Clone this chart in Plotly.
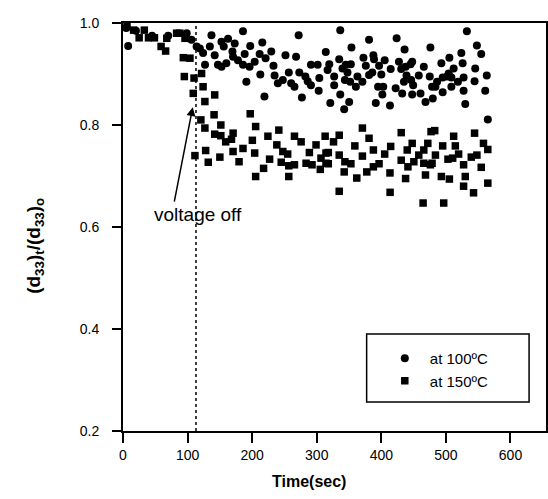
import plotly.graph_objects as go

# 100 degC series (circles)
t100 = [5, 8, 20, 45, 70, 98.6, 106, 114, 119, 124, 134.5, 137, 142, 147, 127,
        185.8, 152.5, 162.7, 156, 173, 169.5, 170.4, 178, 188.4, 197, 185.8, 196, 203.9, 211.6, 215.7,
        220.8, 229.6, 233, 212.6, 234.7, 239.8, 247.5, 251.6, 256.7, 260.4, 265.5, 268, 272, 273,
        282.4, 286, 291, 291, 301.4, 304, 303, 314, 191, 219, 277, 152.5, 160,
        336.4, 381, 423.7, 353.8, 436, 476, 319.4, 334.8, 316.8, 339.9, 345, 352.8, 347.6, 327,
        343.6, 351.8, 363, 372.3, 376, 387.7, 388.7, 396.5, 405.2, 381, 386, 400, 370.7, 360.6,
        327, 395, 403, 401.6, 336.4, 321, 350.2, 342.5, 391.4, 413.4, 414.5, 427.3, 430.8, 437.6,
        445.3, 447.8, 439, 446.2, 435, 449.3, 422.2, 432.3, 447.8, 460.7, 458, 465.8, 475, 468.4, 478.6,
        532.5, 548, 554.7, 523.9, 505.4, 493, 525.9, 512, 545.4, 504.3, 495, 501.7, 508.5, 527.4,
        563.3, 486.3, 518.6, 544.4, 483.8, 508.5, 495, 527.4, 560.9, 479.7, 530, 564.9]
v100 = [0.99, 0.955, 0.985, 0.975, 0.975, 0.980, 0.967, 0.954, 0.950, 0.941, 0.954, 0.976, 0.937, 0.918, 0.918,
        0.984, 0.963, 0.969, 0.954, 0.960, 0.944, 0.934, 0.927, 0.939, 0.955, 0.918, 0.914, 0.924, 0.939, 0.962,
        0.931, 0.944, 0.916, 0.899, 0.897, 0.882, 0.888, 0.937, 0.903, 0.882, 0.875, 0.934, 0.976, 0.903,
        0.895, 0.886, 0.878, 0.918, 0.918, 0.892, 0.867, 0.943, 0.885, 0.856, 0.854, 0.914, 0.921,
        0.986, 0.967, 0.970, 0.952, 0.948, 0.952, 0.919, 0.929, 0.908, 0.911, 0.918, 0.919, 0.903, 0.895,
        0.888, 0.885, 0.895, 0.932, 0.916, 0.937, 0.929, 0.916, 0.927, 0.898, 0.903, 0.899, 0.885, 0.875,
        0.878, 0.875, 0.875, 0.860, 0.860, 0.843, 0.845, 0.831, 0.843, 0.838, 0.910, 0.924, 0.910, 0.914,
        0.919, 0.924, 0.897, 0.888, 0.885, 0.878, 0.872, 0.862, 0.860, 0.862, 0.897, 0.914, 0.895, 0.845, 0.875,
        0.984, 0.956, 0.939, 0.941, 0.932, 0.921, 0.921, 0.911, 0.911, 0.901, 0.893, 0.895, 0.893, 0.893,
        0.897, 0.885, 0.885, 0.886, 0.875, 0.875, 0.864, 0.867, 0.867, 0.852, 0.841, 0.811]

# 150 degC series (squares)
t150 = [6.2, 16.4, 25, 33, 39.5, 48.7, 59, 67.8, 66, 83, 88, 96, 93.4, 103.7, 95, 110, 121.7, 124, 108.8, 142, 126.8,
        120.6, 141, 126.8, 151.5, 142, 151.5, 111.4, 128, 132, 150,
        197, 170.5, 168, 159, 205.4, 224.4, 241.3, 200.3, 170.4, 185.8, 203.9, 179.7, 238.2, 247.5, 255, 227,
        245, 256.7, 265.5, 217.7, 205.4, 256.7, 265.5, 275.8, 288.6, 298.9, 313, 283.5, 292.7, 306.6, 305.5,
        314.3, 314.3,
        334.8, 326, 370.7, 381, 359, 317.9, 334.8, 317.9, 343.6, 352.9, 342.5, 370.7, 387.7, 387.7, 377.5,
        396.5, 405.2, 414.5, 413.4, 430.8, 430.8, 437.6, 440.1, 447.8, 441.2, 450.4, 458, 465.8, 472, 465.8,
        468.4, 477, 478.6, 362, 334.8, 413.6, 464.7,
        482.7, 512, 544.4, 495, 514.6, 558.2, 564.9, 483.8, 503.2, 510.5, 519.7, 539.3, 548, 476, 527.4,
        554.7, 493, 505.4, 530, 527.4, 542.8, 564.9, 496.6]
v150 = [0.993, 0.986, 0.971, 0.986, 0.971, 0.971, 0.954, 0.970, 0.945, 0.980, 0.980, 0.970, 0.932, 0.931, 0.895,
        0.892, 0.901, 0.875, 0.862, 0.859, 0.846,
        0.810, 0.820, 0.794, 0.800, 0.782, 0.779, 0.740, 0.750, 0.727, 0.737,
        0.822, 0.784, 0.772, 0.767, 0.797, 0.778, 0.790, 0.770, 0.748, 0.754, 0.745, 0.728, 0.761, 0.748, 0.743, 0.733,
        0.727, 0.720, 0.722, 0.715, 0.699, 0.699, 0.778, 0.767, 0.746, 0.761, 0.778, 0.725, 0.722, 0.735, 0.713,
        0.745, 0.725,
        0.780, 0.767, 0.794, 0.774, 0.759, 0.746, 0.741, 0.724, 0.728, 0.724, 0.708, 0.739, 0.751, 0.718, 0.708,
        0.724, 0.743, 0.758, 0.706, 0.785, 0.731, 0.695, 0.751, 0.764, 0.718, 0.728, 0.741, 0.751, 0.764, 0.725,
        0.702, 0.787, 0.725, 0.696, 0.670, 0.668, 0.647,
        0.789, 0.778, 0.784, 0.759, 0.759, 0.764, 0.752, 0.741, 0.733, 0.735, 0.743, 0.737, 0.741, 0.722, 0.722,
        0.717, 0.699, 0.694, 0.699, 0.680, 0.667, 0.686, 0.647]

x_ticks = [0, 100, 200, 300, 400, 500, 600]
y_ticks = [0.2, 0.4, 0.6, 0.8, 1.0]
voltage_off_time = 113

FONT = "Arial, Liberation Sans, sans-serif"

fig = go.Figure()
fig.add_trace(go.Scatter(x=t100, y=v100, mode="markers", name="at 100ºC",
                         marker=dict(symbol="circle", size=8, color="black"), cliponaxis=False))
fig.add_trace(go.Scatter(x=t150, y=v150, mode="markers", name="at 150ºC",
                         marker=dict(symbol="square", size=7.5, color="black"), cliponaxis=False))

fig.add_shape(type="line", x0=voltage_off_time, x1=voltage_off_time, y0=0.2, y1=1.0,
              xref="x", yref="y", line=dict(color="black", width=1.5, dash="dot"))
# axis lines extending a little beyond the y axis
fig.add_shape(type="line", x0=-0.024, x1=0, y0=0, y1=0, xref="paper", yref="paper",
              line=dict(color="black", width=2))
fig.add_shape(type="line", x0=-0.024, x1=0, y0=1, y1=1, xref="paper", yref="paper",
              line=dict(color="black", width=2))
# legend frame
fig.add_shape(type="rect", x0=0.576, x1=0.96, y0=0.071, y1=0.238, xref="paper", yref="paper",
              line=dict(color="black", width=1.5), fillcolor="rgba(0,0,0,0)", layer="above")

fig.add_annotation(x=108, y=0.835, ax=79, ay=0.647, xref="x", yref="y", axref="x", ayref="y",
                   text="", showarrow=True, arrowhead=2, arrowsize=1.2, arrowwidth=1.5, arrowcolor="black")
fig.add_annotation(x=116, y=0.624, xref="x", yref="y", text="voltage off", showarrow=False,
                   font=dict(family=FONT, size=19, color="black"))
fig.add_annotation(x=0.44, y=-0.15, xref="paper", yref="paper", text="<b>Time(sec)</b>",
                   showarrow=False, font=dict(family=FONT, size=16, color="black"))
fig.add_annotation(x=-0.24, y=0.455, xref="paper", yref="paper", textangle=-90,
                   text="<b>(d<sub>33</sub>)<sub>t</sub>/(d<sub>33</sub>)<sub>o</sub></b>",
                   showarrow=False, font=dict(family=FONT, size=19, color="black"))

fig.update_layout(
    width=548, height=499,
    margin=dict(l=123, r=0, t=23, b=68),
    paper_bgcolor="white", plot_bgcolor="white",
    font=dict(family=FONT, size=14, color="black"),
    showlegend=True,
    legend=dict(x=0.574, y=0.218, xanchor="left", yanchor="top",
                borderwidth=0, bgcolor="rgba(0,0,0,0)",
                font=dict(family=FONT, size=15, color="black"),
                indentation=14, itemwidth=40, tracegroupgap=4),
    xaxis=dict(range=[0, 655], tickvals=x_ticks, showgrid=False, zeroline=False,
               showline=True, linecolor="black", linewidth=2, mirror=True,
               ticks="outside", ticklen=10, tickwidth=2, tickcolor="black"),
    yaxis=dict(range=[0.2, 1.0], tickvals=y_ticks, tickformat=".1f", showgrid=False, zeroline=False,
               showline=True, linecolor="black", linewidth=2, mirror=True,
               ticks="outside", ticklen=9, tickwidth=1.5, tickcolor="black", ticklabelstandoff=10),
)

fig.write_html("out.html")
